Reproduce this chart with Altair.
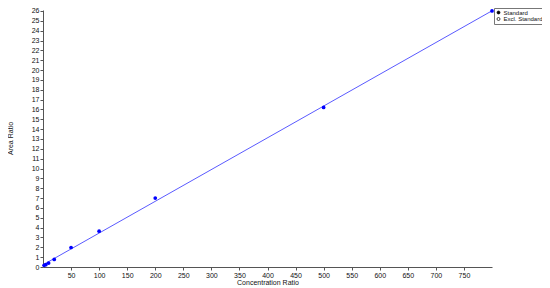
import altair as alt
import pandas as pd

conc = [2, 5, 10, 20, 50, 100, 200, 500, 800]
area = [0.17, 0.23, 0.40, 0.77, 1.98, 3.64, 7.0, 16.2, 26.0]
legend_labels = ["Standard", "Excl. Standard"]
x_ticks = list(range(50, 800, 50))
y_ticks = list(range(0, 27))

df = pd.DataFrame({"x": conc, "y": area})
leg = pd.DataFrame({"cat": legend_labels, "x": [0, 0], "y": [0, 0]})

FONT = "Liberation Sans"
xs = alt.Scale(domain=[0, 800], nice=False, zero=False)
ys = alt.Scale(domain=[0, 26.1], nice=False)

xax = alt.Axis(values=x_ticks, title="Concentration Ratio", grid=False,
               labelFontSize=7, titleFontSize=7, labelFont=FONT, titleFont=FONT,
               titleFontWeight="normal", tickSize=3, labelPadding=1, titlePadding=0,
               labelOverlap=False, labelFlush=False,
               domainColor="#555", tickColor="#555", labelColor="#111", titleColor="#111")
yax = alt.Axis(values=y_ticks, title="Area Ratio", grid=False,
               labelFontSize=7, titleFontSize=7, labelFont=FONT, titleFont=FONT,
               titleFontWeight="normal", tickSize=3, labelPadding=1,
               labelOverlap=False, labelFlush=False,
               titleX=-33, titleY=128, titleAngle=-90, titleAlign="center",
               titleBaseline="middle",
               domainColor="#555", tickColor="#555", labelColor="#111", titleColor="#111")

X = alt.X("x:Q", scale=xs, axis=xax)
Y = alt.Y("y:Q", scale=ys, axis=yax)

base = alt.Chart(df)

line = base.transform_regression("x", "y", extent=[0, 800]).mark_line(
    color="#5a5aff", strokeWidth=1, clip=True
).encode(x=X, y=Y)

pts = base.mark_circle(color="#0000ff", size=14, opacity=1).encode(x=X, y=Y)

legend_layer = alt.Chart(leg).mark_point(opacity=0, filled=True, shape="circle").encode(
    x=X,
    y=Y,
    fill=alt.Fill("cat:N", scale=alt.Scale(domain=legend_labels, range=["black", "white"]),
                  legend=alt.Legend(title=None, orient="none", legendX=451, legendY=-2,
                                    symbolOpacity=1, symbolType="circle", symbolSize=9,
                                    symbolStrokeColor="black", symbolStrokeWidth=0.7,
                                    labelFontSize=6, labelFont=FONT, labelColor="#111",
                                    strokeColor="#777", fillColor="white", padding=1.5,
                                    rowPadding=0.5, labelOffset=2, symbolOffset=0)),
)

chart = alt.layer(line, pts, legend_layer).properties(
    width=449, height=257,
    autosize=alt.AutoSizeParams(type="none"),
    padding={"left": 35, "top": 2, "right": 50, "bottom": 21},
    background="white",
).configure_view(stroke=None)

chart.save("out.html", embed_options={"renderer": "svg", "actions": False})
